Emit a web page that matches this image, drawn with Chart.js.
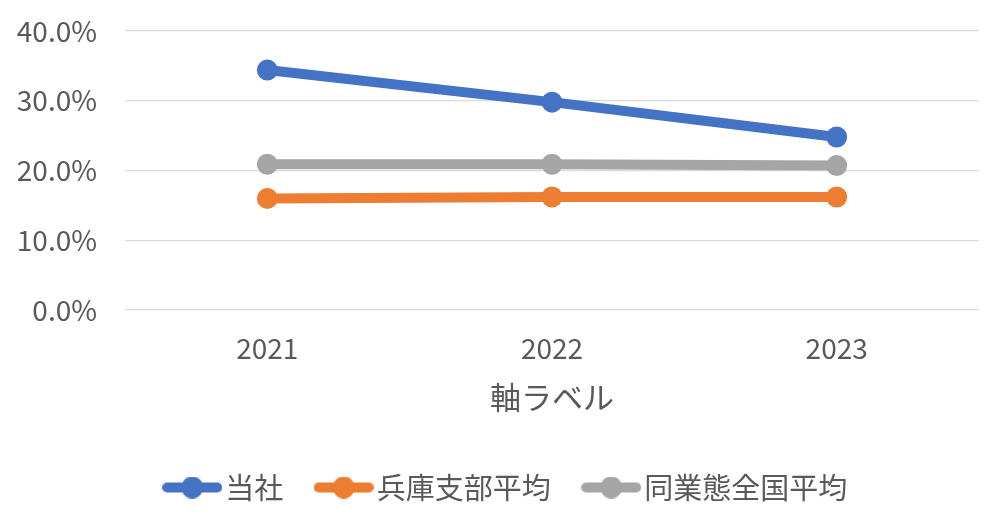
<!DOCTYPE html>
<html>
<head>
<meta charset="utf-8">
<script src="https://cdn.jsdelivr.net/npm/chart.js@4/dist/chart.umd.min.js"></script>
<style>
html,body{margin:0;padding:0;background:#fff;}
#wrap{width:1007px;height:528px;position:relative;}
</style>
</head>
<body>
<div id="wrap"><canvas id="c" width="1007" height="528"></canvas></div>
<script>
const categories = ['2021', '2022', '2023'];
const seriesNames = ['当社', '兵庫支部平均', '同業態全国平均'];
const toshaValues = [34.4, 29.8, 24.8];
const hyogoValues = [16.0, 16.2, 16.2];
const zenkokuValues = [20.9, 20.9, 20.7];
const yTicks = [0, 10, 20, 30, 40];
const xAxisTitle = '軸ラベル';

const colors = ['#4472C4', '#ED7D31', '#A5A5A5'];
const FONT = "'Noto Sans CJK JP', 'Noto Sans', sans-serif";
const TEXT = '#595959';

function legendMarker(color) {
  const cv = document.createElement('canvas');
  cv.width = 60; cv.height = 22;
  const g = cv.getContext('2d');
  g.strokeStyle = color; g.fillStyle = color;
  g.lineWidth = 10; g.lineCap = 'round';
  g.beginPath(); g.moveTo(5, 11); g.lineTo(55, 11); g.stroke();
  g.beginPath(); g.arc(30, 11, 11, 0, Math.PI * 2); g.fill();
  return cv;
}
const markers = colors.map(legendMarker);

const values = [toshaValues, hyogoValues, zenkokuValues];
const datasets = seriesNames.map((n, i) => ({
  label: n,
  data: values[i],
  borderColor: colors[i],
  backgroundColor: colors[i],
  borderWidth: 10,
  pointRadius: 10.5,
  pointHoverRadius: 10.5,
  pointBorderWidth: 0,
  pointBackgroundColor: colors[i],
  tension: 0
}));

const legendShift = {
  id: 'legendShift',
  afterLayout(chart) {
    if (chart.legend) { chart.legend.left = 42; }
  }
};

new Chart(document.getElementById('c'), {
  type: 'line',
  data: { labels: categories, datasets },
  plugins: [legendShift],
  options: {
    responsive: false,
    animation: false,
    devicePixelRatio: 1,
    layout: { autoPadding: false, padding: { left: 0, right: 28, top: 31, bottom: 16 } },
    plugins: {
      tooltip: { enabled: false },
      legend: {
        position: 'bottom',
        labels: {
          usePointStyle: true,
          pointStyleWidth: 37,
          padding: 42,
          color: TEXT,
          font: { family: FONT, size: 29 },
          generateLabels: (chart) => {
            const items = Chart.defaults.plugins.legend.labels.generateLabels(chart);
            items.forEach((it, i) => { it.pointStyle = markers[i]; });
            return items;
          }
        }
      }
    },
    scales: {
      x: {
        offset: true,
        grid: { display: false, drawTicks: false },
        border: { display: false },
        ticks: { color: TEXT, font: { family: FONT, size: 28 }, padding: 22, maxRotation: 0 },
        title: { display: true, text: xAxisTitle, color: TEXT, font: { family: FONT, size: 31 }, padding: { top: 0, bottom: 15 } },
        afterFit: (s) => { s.height = 121; s.paddingLeft = 0; s.paddingRight = 0; }
      },
      y: {
        min: 0, max: 40,
        afterBuildTicks: (s) => { s.ticks = yTicks.map(v => ({ value: v })); },
        grid: { color: '#D9D9D9', lineWidth: 1.3, drawTicks: false },
        border: { display: false },
        ticks: { color: TEXT, font: { family: FONT, size: 28 }, padding: 28, callback: (v) => v.toFixed(1) + '%' },
        afterFit: (s) => { s.width = 125; s.paddingTop = 0; s.paddingBottom = 0; }
      }
    }
  }
});
</script>
</body>
</html>
